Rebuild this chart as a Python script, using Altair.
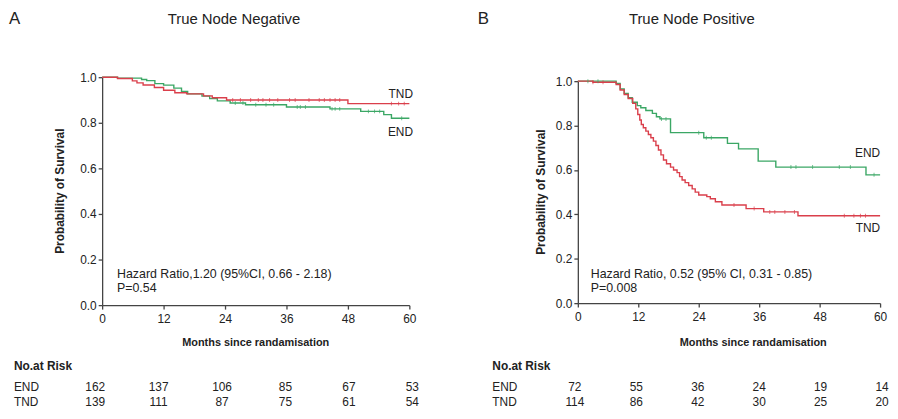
import altair as alt
import pandas as pd

W, H = 890, 403
GREEN = "#3ba765"
RED = "#da3f4b"
FONT = "Liberation Sans"
INK = "#222222"
AXC = "#444444"

months = [0, 12, 24, 36, 48, 60]
groups = ["END", "TND"]
y_ticks = [0.0, 0.2, 0.4, 0.6, 0.8, 1.0]

# ---- Panel A: True Node Negative ----
a_end_t = [0, 3, 7.7, 8.7, 10.3, 12, 14, 15.5, 16.7, 19.5, 21, 22.5, 25, 28, 36, 44.5, 50.5, 55, 56.5, 60]
a_end_s = [1.0, 0.996, 0.99, 0.985, 0.972, 0.965, 0.952, 0.937, 0.927, 0.917, 0.906, 0.896, 0.887, 0.879, 0.869, 0.861, 0.85, 0.836, 0.82, 0.82]
a_tnd_t = [0, 3.0, 5.9, 6.8, 8, 10.2, 12, 14.2, 16.5, 19.8, 21.5, 24.3, 48, 60]
a_tnd_s = [1.0, 0.994, 0.984, 0.975, 0.966, 0.955, 0.943, 0.932, 0.927, 0.918, 0.91, 0.9, 0.884, 0.884]
a_end_cens = [26, 27.5, 30, 32, 33.5, 38.1, 38.7, 39.7, 44.9, 45.5, 46.4, 52, 53.2, 54.2, 58.5]
a_tnd_cens = [25.5, 27, 29, 30.5, 31.4, 32.7, 34.3, 36.6, 37.7, 40.4, 42.4, 43.4, 44.5, 45.5, 46.4, 56.5, 57.9, 59]

# ---- Panel B: True Node Positive ----
b_end_t = [0, 7.6, 8.4, 9.2, 10, 10.8, 11.8, 12.5, 13.5, 14.8, 15.6, 16.3, 18.4, 25, 29.7, 31.9, 35.8, 39.3, 57.2, 60]
b_end_s = [1.0, 0.99, 0.965, 0.945, 0.925, 0.905, 0.89, 0.88, 0.868, 0.855, 0.84, 0.83, 0.768, 0.745, 0.72, 0.695, 0.64, 0.613, 0.578, 0.578]
b_tnd_t = [0, 3, 7.6, 8.4, 9.2, 10, 10.9, 11.5, 11.9, 12.3, 12.6, 13, 13.5, 14, 14.5, 15, 15.5, 16, 16.5, 17,
           17.6, 18.4, 19, 19.7, 20.2, 20.7, 21.3, 22, 22.7, 23.3, 24, 25.6, 26.3, 27.3, 28.6, 33.4, 36.9, 43.7, 60]
b_tnd_s = [1.0, 0.995, 0.985, 0.96, 0.94, 0.922, 0.9, 0.875, 0.85, 0.825, 0.805, 0.79, 0.775, 0.76, 0.745, 0.73, 0.71, 0.69, 0.668, 0.645,
           0.628, 0.613, 0.6, 0.588, 0.57, 0.555, 0.543, 0.53, 0.515, 0.5, 0.487, 0.48, 0.47, 0.457, 0.442, 0.426, 0.411, 0.394, 0.394]
b_end_cens = [2, 4, 16.6, 17.5, 24, 25.5, 26.5, 42.3, 43.3, 46.6, 51.9, 54.1, 58.8]
b_tnd_cens = [3, 5, 31, 35, 38.1, 39.1, 41.1, 43.0, 52.9, 54.8, 56.1, 57.1]

# ---- Numbers at risk ----
risk_a_end = [162, 137, 106, 85, 67, 53]
risk_a_tnd = [139, 111, 87, 75, 61, 54]
risk_b_end = [72, 55, 36, 24, 19, 14]
risk_b_tnd = [114, 86, 42, 30, 25, 20]


def km_value(ts, ss, t):
    v = ss[0]
    for ti, si in zip(ts, ss):
        if ti <= t:
            v = si
    return v


def curves_df(et, es, tt, ts_):
    return pd.concat([
        pd.DataFrame({"t": et, "s": es, "group": "END"}),
        pd.DataFrame({"t": tt, "s": ts_, "group": "TND"}),
    ], ignore_index=True)


def censor_df(et, es, ec, tt, ts_, tc):
    rows = [{"t": c, "s": km_value(et, es, c), "group": "END"} for c in ec]
    rows += [{"t": c, "s": km_value(tt, ts_, c), "group": "TND"} for c in tc]
    return pd.DataFrame(rows)


color = alt.Color("group:N", scale=alt.Scale(domain=groups, range=[GREEN, RED]), legend=None)
dummy = pd.DataFrame({"k": [0]})


def label(text, x, y, size=12, weight="normal", align="left", angle=0, baseline="middle"):
    kw = dict(text=text, font=FONT, fontSize=size, fontWeight=weight, color=INK,
              align=align, baseline=baseline)
    if angle:
        kw["angle"] = angle
    return alt.Chart(dummy).mark_text(**kw).encode(x=alt.value(x), y=alt.value(y))


def panel(curves, cens, x0, x1, ytop, ybot):
    xs = alt.Scale(domain=[0, 60], range=[x0, x1], nice=False, zero=False)
    ys = alt.Scale(domain=[0, 1], range=[ybot, ytop], nice=False)
    common = dict(title=None, grid=False, tickSize=4, labelFontSize=12, labelFont=FONT,
                  labelColor=INK, domainColor=AXC, tickColor=AXC, domainWidth=1.3, tickWidth=1.3)
    xax = alt.Axis(values=months, orient="bottom", offset=ybot - H, labelPadding=5,
                   labelFlush=False, **common)
    yax = alt.Axis(values=y_ticks, format=".1f", orient="left", offset=-x0, labelPadding=2, **common)
    enc = dict(x=alt.X("t:Q", scale=xs, axis=xax), y=alt.Y("s:Q", scale=ys, axis=yax), color=color)
    line = alt.Chart(curves).mark_line(interpolate="step-after", strokeWidth=1.4).encode(**enc)
    ticks = alt.Chart(cens).mark_tick(orient="vertical", size=4, thickness=1).encode(**enc)
    return alt.layer(line, ticks)


def table(c_end, c_tnd, c0, c1, y_end, y_tnd):
    xs = alt.Scale(domain=[0, 60], range=[c0, c1], nice=False, zero=False)
    d_end = pd.DataFrame({"m": months, "n": c_end})
    d_tnd = pd.DataFrame({"m": months, "n": c_tnd})
    base = dict(font=FONT, fontSize=12, color=INK, align="center", baseline="middle")
    r1 = alt.Chart(d_end).mark_text(**base).encode(
        x=alt.X("m:Q", scale=xs, axis=None), y=alt.value(y_end), text="n:Q")
    r2 = alt.Chart(d_tnd).mark_text(**base).encode(
        x=alt.X("m:Q", scale=xs, axis=None), y=alt.value(y_tnd), text="n:Q")
    return alt.layer(r1, r2)


pA = panel(curves_df(a_end_t, a_end_s, a_tnd_t, a_tnd_s),
           censor_df(a_end_t, a_end_s, a_end_cens, a_tnd_t, a_tnd_s, a_tnd_cens),
           95, 405, 68, 298)
pB = panel(curves_df(b_end_t, b_end_s, b_tnd_t, b_tnd_s),
           censor_df(b_end_t, b_end_s, b_end_cens, b_tnd_t, b_tnd_s, b_tnd_cens),
           575, 880, 72, 296)

Y_HEAD, Y_END, Y_TND = 359, 381, 396
tA = table(risk_a_end, risk_a_tnd, 88, 408, Y_END, Y_TND)
tB = table(risk_b_end, risk_b_tnd, 572, 882, Y_END, Y_TND)

texts = [
    label("A", 1, 9, size=17),
    label("True Node Negative", 228, 9, size=15, align="center"),
    label("B", 474, 9, size=17),
    label("True Node Positive", 690, 9, size=15, align="center"),
    label("Probability  of  Survival", 53, 183, size=12, weight="bold", align="center", angle=270),
    label("Probability  of  Survival", 538, 184, size=12, weight="bold", align="center", angle=270),
    label("Months since randamisation", 250, 336, size=11, weight="bold", align="center"),
    label("Months since randamisation", 752, 336, size=11, weight="bold", align="center"),
    label("Hazard Ratio,1.20 (95%CI, 0.66 - 2.18)", 110, 267, size=12.5),
    label("P=0.54", 110, 281, size=12.5),
    label("Hazard Ratio, 0.52 (95% CI, 0.31 - 0.85)", 588, 267, size=12.5),
    label("P=0.008", 588, 281, size=12.5),
    label("TND", 408.7, 85, align="right"),
    label("END", 408.7, 123.7, align="right"),
    label("END", 880, 144.7, align="right"),
    label("TND", 880, 219.7, align="right"),
    label("No.at Risk", 6, Y_HEAD, weight="bold"),
    label("END", 6, Y_END),
    label("TND", 6, Y_TND),
    label("No.at Risk", 488.7, Y_HEAD, weight="bold"),
    label("END", 488.7, Y_END),
    label("TND", 488.7, Y_TND),
]

chart = alt.layer(pA, tA, pB, tB, *texts).resolve_scale(
    x="independent", y="independent"
).properties(
    width=W, height=H, padding=0,
    autosize=alt.AutoSizeParams(type="none"),
    background="white",
).configure_view(stroke=None)

chart.save("out.html", embed_options={"renderer": "svg", "actions": False})
